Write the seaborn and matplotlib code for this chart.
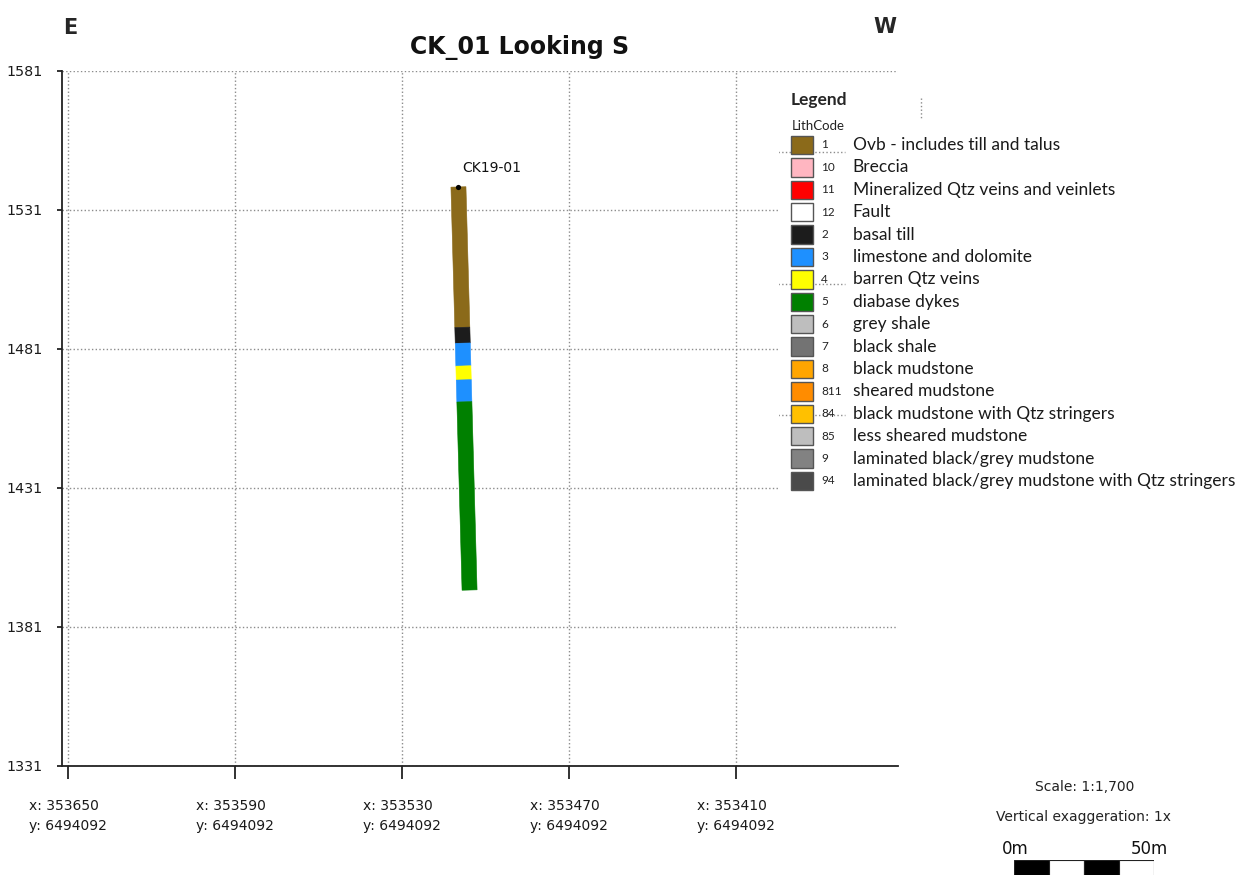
import numpy as np
import matplotlib
matplotlib.use("Agg")
import matplotlib.pyplot as plt
from matplotlib.patches import Rectangle
import seaborn as sns

# Leyenda de litologias (codigo, nombre, color)
lith_codes = ["1", "10", "11", "12", "2", "3", "4", "5", "6", "7", "8", "811", "84", "85", "9", "94"]
lith_names = [
    "Ovb - includes till and talus",
    "Breccia",
    "Mineralized Qtz veins and veinlets",
    "Fault",
    "basal till",
    "limestone and dolomite",
    "barren Qtz veins",
    "diabase dykes",
    "grey shale",
    "black shale",
    "black mudstone",
    "sheared mudstone",
    "black mudstone with Qtz stringers",
    "less sheared mudstone",
    "laminated black/grey mudstone",
    "laminated black/grey mudstone with Qtz stringers",
]
lith_colors = [
    "#8b6a1a", "#ffb6c1", "#ff0000", "#ffffff", "#1c1c1c", "#1e90ff", "#ffff00", "#008000",
    "#bebebe", "#737373", "#ffa500", "#ff8c00", "#ffc000", "#bebebe", "#828282", "#4a4a4a",
]

# Sondaje CK19-01: collar, fondo y tramos (desde/hasta en m a lo largo del pozo)
hole_id = "CK19-01"
collar_x, collar_z = 353509.8, 1539.3
end_x, end_z = 353505.8, 1394.3
hole_from = [0.0, 50.5, 56.2, 64.4, 69.4, 77.3]
hole_to = [50.5, 56.2, 64.4, 69.4, 77.3, 145.0]
hole_code = ["1", "2", "3", "4", "3", "5"]
hole_width = 5.4

# Ejes de la seccion
x_ticks = [353650, 353590, 353530, 353470, 353410]
section_y = 6494092
z_ticks = [1331, 1381, 1431, 1481, 1531, 1581]
x_limits = (353652.2, 353351.9)
z_limits = (1331, 1581)

# Barra de escala
scale_left = [0.0, 12.5, 25.0, 37.5]
scale_seg = 12.5
scale_colors = ["black", "white", "black", "white"]

W, H = 1236, 875


def px_box(x0, y0, x1, y1):
    # convierte una caja en pixeles (origen arriba-izq) a fraccion de figura
    return [x0 / W, 1 - y1 / H, (x1 - x0) / W, (y1 - y0) / H]


def draw_hole(ax):
    color_map = dict(zip(lith_codes, lith_colors))
    total = hole_to[-1]
    dx, dz = end_x - collar_x, end_z - collar_z
    length = np.hypot(dx, dz)
    px, pz = dz / length * hole_width / 2, -dx / length * hole_width / 2
    for d0, d1, code in zip(hole_from, hole_to, hole_code):
        x0 = np.interp(d0, [0, total], [collar_x, end_x])
        z0 = np.interp(d0, [0, total], [collar_z, end_z])
        x1 = np.interp(d1, [0, total], [collar_x, end_x])
        z1 = np.interp(d1, [0, total], [collar_z, end_z])
        xs = [x0 + px, x1 + px, x1 - px, x0 - px]
        zs = [z0 + pz, z1 + pz, z1 - pz, z0 - pz]
        ax.fill(xs, zs, color=color_map[code], linewidth=0.4, edgecolor=color_map[code], zorder=3)
    sns.scatterplot(x=[collar_x], y=[collar_z], color="black", s=14, linewidth=0, ax=ax, zorder=4)
    ax.annotate(hole_id, (collar_x, collar_z), xytext=(3, 13.5), textcoords="offset points",
                ha="left", va="center", fontsize=10, color="#111111")


def draw_legend(fig):
    lax = fig.add_axes(px_box(779, 88, W, 495))
    lax.set_xlim(0, W - 779)
    lax.set_ylim(495 - 88, 0)
    lax.axis("off")
    lax.add_patch(Rectangle((0, 0), W - 779, 495 - 88, facecolor="white", edgecolor="none", zorder=0))
    fam = ["Lato", "DejaVu Sans"]
    lax.text(11.5, 12, "Legend", fontsize=12.5, fontweight="bold", family=fam, va="center", ha="left")
    lax.text(12.5, 37.5, "LithCode", fontsize=9.5, family=fam, va="center", ha="left", color="#222222")
    # restos de lineas punteadas bajo la leyenda
    for yy in [63.7, 196.3, 327.0]:
        lax.plot([-1, 66], [yy, yy], linestyle=":", color="#8c8c8c", linewidth=1, zorder=1)
    lax.plot([141.7, 141.7], [10, 32], linestyle=":", color="#8c8c8c", linewidth=1, zorder=1)
    for i, (code, name, col) in enumerate(zip(lith_codes, lith_names, lith_colors)):
        yc = 57 + 22.4 * i
        lax.add_patch(Rectangle((11.7, yc - 9.2), 22, 18.4, facecolor=col, edgecolor="#555555",
                                linewidth=1, zorder=2))
        lax.text(42, yc, code, fontsize=8.5, family=fam, va="center", ha="left", color="#222222", zorder=3)
        lax.text(73.7, yc, name, fontsize=12.5, family=fam, va="center", ha="left", color="#1a1a1a", zorder=3)


def draw_scale(fig):
    fig.text(1084.3 / W, 1 - 786.7 / H, "Scale: 1:1,700", fontsize=10, ha="center", va="center", color="#222222")
    fig.text(1083.5 / W, 1 - 816.7 / H, "Vertical exaggeration: 1x", fontsize=10, ha="center", va="center",
             color="#222222")
    fig.text(1015 / W, 1 - 849 / H, "0m", fontsize=12, ha="center", va="center", color="#111111")
    fig.text(1149.5 / W, 1 - 849 / H, "50m", fontsize=12, ha="center", va="center", color="#111111")
    sax = fig.add_axes(px_box(1014.3, 860, 1154.3, 890))
    sax.barh([0.5] * len(scale_left), [scale_seg] * len(scale_left), left=scale_left, height=1,
             color=scale_colors, edgecolor="#222222", linewidth=0.8)
    sax.set_xlim(0, 50)
    sax.set_ylim(0, 1)
    sax.axis("off")


def main():
    sns.set_theme(style="white")
    plt.rcParams["font.family"] = ["DejaVu Sans"]

    fig = plt.figure(figsize=(W / 100, H / 100), dpi=100)
    ax = fig.add_axes(px_box(62.3, 71, 897.7, 766))

    ax.set_xlim(*x_limits)
    ax.set_ylim(*z_limits)
    ax.set_xticks(x_ticks)
    ax.set_xticklabels([f"x: {x}\ny: {section_y}" for x in x_ticks], fontsize=10, linespacing=1.5,
                       multialignment="left", color="#1a1a1a")
    ax.set_yticks(z_ticks)
    ax.set_yticklabels([str(z) for z in z_ticks], fontsize=10.3, color="#1a1a1a")
    ax.grid(True, linestyle=":", color="#8c8c8c", linewidth=1)
    ax.set_axisbelow(True)
    for side in ["top", "right"]:
        ax.spines[side].set_visible(False)
    for side in ["left", "bottom"]:
        ax.spines[side].set_color("#222222")
        ax.spines[side].set_linewidth(1.3)
    ax.tick_params(axis="x", direction="out", length=9.5, width=1.3, color="#222222", pad=14.5, bottom=True)
    ax.tick_params(axis="y", direction="out", length=3.6, width=1.3, color="#222222", pad=10.5, left=True)

    draw_hole(ax)

    fig.text(519.3 / W, 1 - 47.5 / H, "CK_01 Looking S", fontsize=17, fontweight="bold",
             ha="center", va="center", color="#111111")
    fig.text(70.5 / W, 1 - 27.5 / H, "E", fontsize=15, fontweight="bold", ha="center", va="center")
    fig.text(885 / W, 1 - 27 / H, "W", fontsize=15, fontweight="bold", ha="center", va="center")

    draw_legend(fig)
    draw_scale(fig)

    fig.savefig("out.png", dpi=100)
    plt.close(fig)


if __name__ == "__main__":
    main()
